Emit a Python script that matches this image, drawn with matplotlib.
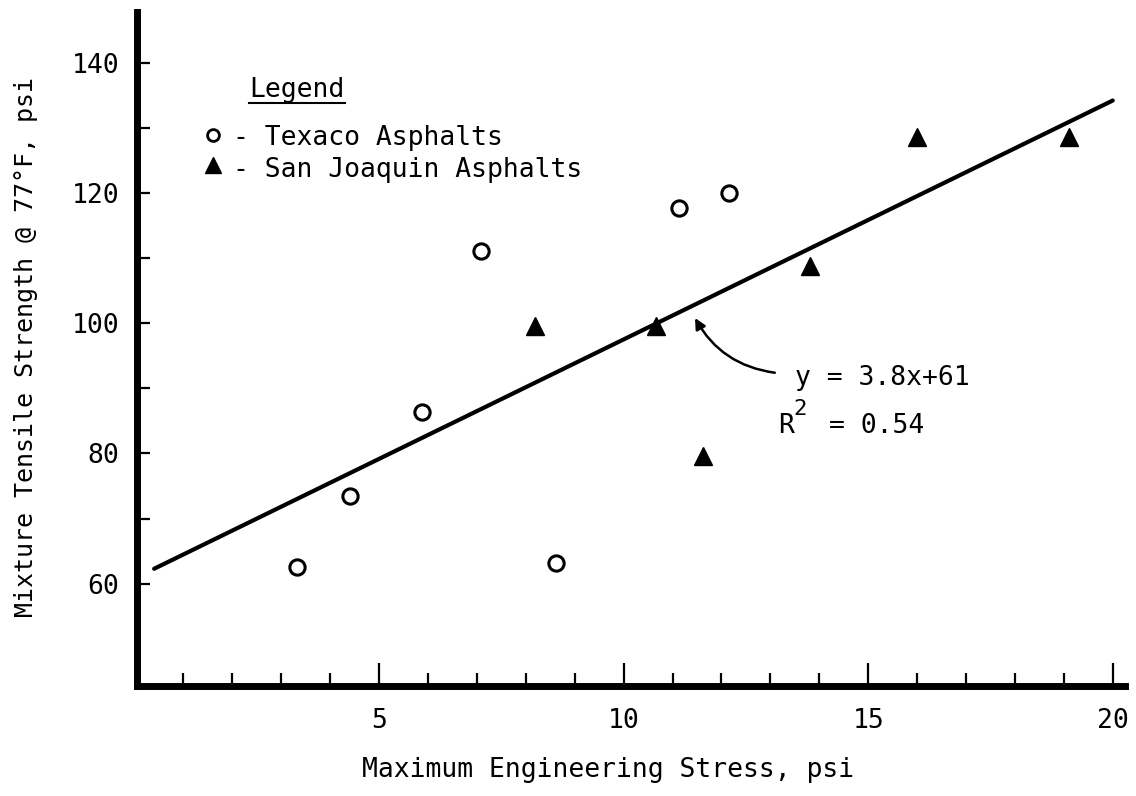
import matplotlib
matplotlib.use("Agg")
import matplotlib.pyplot as plt
from matplotlib.ticker import MultipleLocator, FixedLocator
import numpy as np

plt.rcParams['font.family'] = ['DejaVu Sans Mono']

# data
texaco_x = [3.33, 4.41, 5.88, 7.09, 8.62, 11.13, 12.15]
texaco_y = [62.6, 73.5, 86.4, 111.1, 63.2, 117.7, 120.0]
sanjoaquin_x = [8.19, 10.67, 11.62, 13.82, 16.0, 19.1]
sanjoaquin_y = [99.6, 99.6, 79.6, 108.8, 128.6, 128.6]
# fitted line as drawn (end points)
fit_x = [0.4, 20.0]
fit_y = [62.3, 134.2]
eq_text = "y = 3.8x+61"
r2_value = "0.54"

fig = plt.figure(figsize=(11.36, 7.96), dpi=100)
ax = fig.add_axes([0.1206, 0.1382, 0.8697, 0.8468])

ax.plot(fit_x, fit_y, color='black', lw=3, solid_capstyle='round')
ax.plot(texaco_x, texaco_y, 'o', ms=11, mfc='white', mec='black', mew=2.2, ls='none')
ax.plot(sanjoaquin_x, sanjoaquin_y, '^', ms=13, color='black', ls='none')

ax.set_xlim(0.05, 20.25)
ax.set_ylim(44.3, 147.8)

ax.xaxis.set_major_locator(MultipleLocator(5))
ax.xaxis.set_minor_locator(MultipleLocator(1))
ax.yaxis.set_major_locator(FixedLocator([60, 80, 100, 120, 140]))
ax.yaxis.set_minor_locator(FixedLocator([70, 90, 110, 130]))

for s in ['top', 'right']:
    ax.spines[s].set_visible(False)
for s in ['left', 'bottom']:
    ax.spines[s].set_linewidth(5)

ax.tick_params(axis='x', which='major', direction='in', length=16.5, width=1.6, pad=16, labelsize=19)
ax.tick_params(axis='x', which='minor', direction='in', length=9.5, width=1.6)
ax.tick_params(axis='y', which='both', direction='in', length=9, width=1.6, pad=13, labelsize=19)

ax.set_xlabel("Maximum Engineering Stress, psi", fontsize=19)
ax.set_ylabel("Mixture Tensile Strength @ 77°F, psi", fontsize=18)
ax.xaxis.set_label_coords(0.477, -0.105)
ax.yaxis.set_label_coords(-0.100, 0.503)

# legend drawn by hand
ax.text(0.1134, 0.874, "Legend", transform=ax.transAxes, fontsize=19, va='baseline')
ax.plot([0.1134, 0.2105], [0.865, 0.865], transform=ax.transAxes, color='black', lw=1.5)
ax.plot([0.0769], [0.8175], 'o', ms=8.5, mfc='white', mec='black', mew=2, transform=ax.transAxes)
ax.plot([0.0769], [0.773], '^', ms=12, color='black', transform=ax.transAxes)
ax.text(0.0972, 0.8027, "- Texaco Asphalts", transform=ax.transAxes, fontsize=19, va='baseline')
ax.text(0.0972, 0.755, "- San Joaquin Asphalts", transform=ax.transAxes, fontsize=19, va='baseline')

# equation annotation
ax.annotate('', xy=(11.46, 100.8), xytext=(13.09, 92.4),
            arrowprops=dict(arrowstyle='-|>', connectionstyle='arc3,rad=-0.25',
                            lw=1.8, color='black', mutation_scale=16,
                            shrinkA=0, shrinkB=0))
ax.text(13.5, 90.5, eq_text, fontsize=19, va='baseline')
ax.text(13.15, 83.2, "R", fontsize=19, va='baseline')
ax.text(13.47, 85.9, "2", fontsize=16, va='baseline')
ax.text(14.2, 83.2, "= " + r2_value, fontsize=19, va='baseline')

fig.savefig("out.png", dpi=100)
